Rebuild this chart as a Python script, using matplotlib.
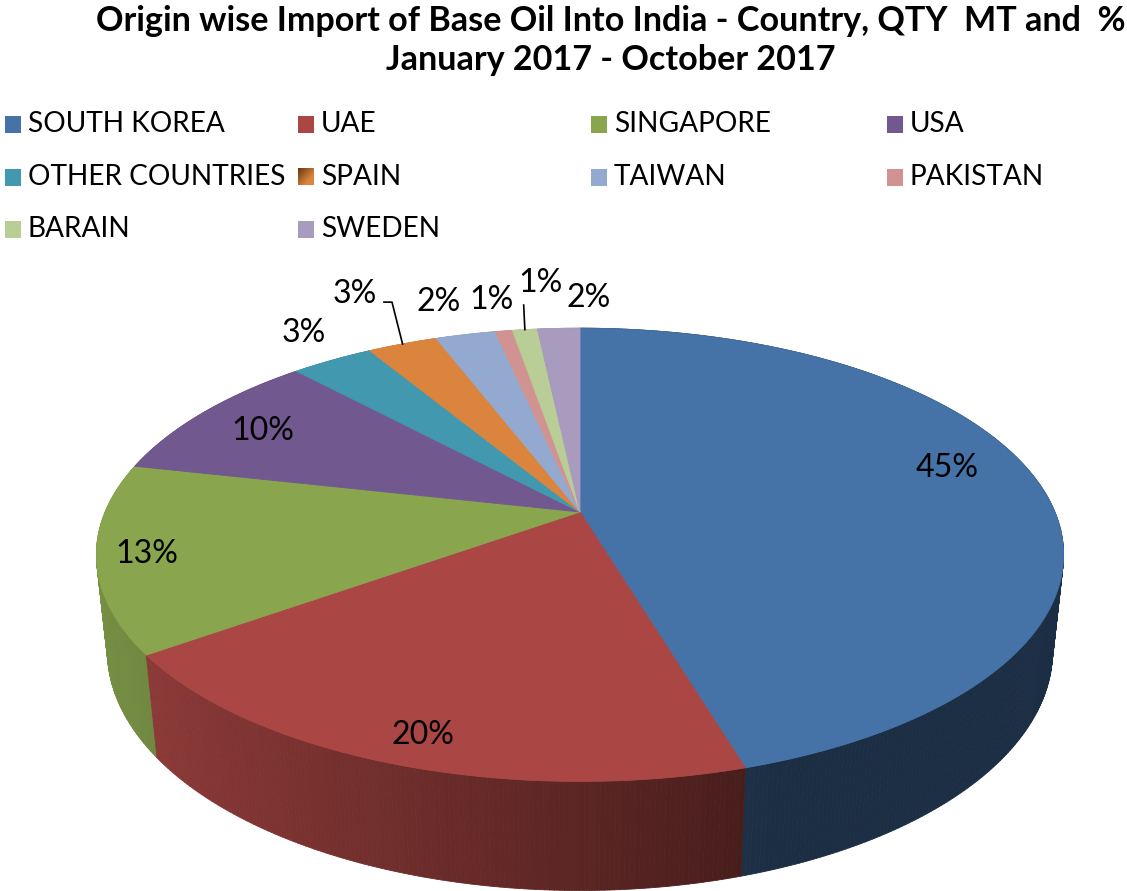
import numpy as np
import matplotlib
matplotlib.use('Agg')
import matplotlib.pyplot as plt
from matplotlib.patches import Polygon, Rectangle
from matplotlib.collections import PolyCollection
from matplotlib import font_manager

# data (share of import quantity, %)
countries = ['SOUTH KOREA', 'UAE', 'SINGAPORE', 'USA', 'OTHER COUNTRIES',
             'SPAIN', 'TAIWAN', 'PAKISTAN', 'BARAIN', 'SWEDEN']
shares = [45.4, 19.7, 13.4, 9.6, 3.3, 2.8, 2.4, 0.7, 1.0, 1.7]
colors = ['#4572A7', '#AA4643', '#89A54E', '#71588F', '#4198AF',
          '#DB843D', '#93A9CF', '#D19392', '#B9CD96', '#A99BBD']
title_lines = ['Origin wise Import of Base Oil Into India - Country, QTY  MT and  %',
               'January 2017 - October 2017']

# label placement in pie units (radius, angle nudge in degrees)
label_r = [0.83, 0.90, 0.90, 0.82, 1.19, 1.36, 1.23, 1.21, 1.31, 1.20]
label_da = [6.4, 1.0, 0.5, 1.0, -1.6, -0.5, 0.6, -0.1, -3.4, -4.1]
# leader lines: pixel offsets from label centre (None = no line)
leader = [None, None, None, None, None, [(37, 8), (29, 8)], None, None, [(-17, 22)], None]

names = {f.name for f in font_manager.fontManager.ttflist}
BODY = 'Lato' if 'Lato' in names else 'DejaVu Sans'
NARROW = 'Liberation Sans Narrow' if 'Liberation Sans Narrow' in names else BODY

# simple perspective camera for the 3d pie
CX, CY = 580, 512
F, DIST = 2232, 4.7
ALPHA = np.radians(27.4)
H = 0.23


def proj(th, r=1.0, z=0.0):
    X = r * np.cos(th)
    Y = r * np.sin(th)
    yv = Y * np.sin(ALPHA) + z * np.cos(ALPHA)
    d = DIST + Y * np.cos(ALPHA) - z * np.sin(ALPHA)
    return CX + F * X / d, CY - F * yv / d


def shade(th_deg):
    a = (th_deg + 180) % 360 - 180
    if a > 90:
        t = 1.0
    elif a >= 0:
        t = 0.0
    else:
        t = np.clip((-a - 70) / 110, 0, 1)
    return 0.40 + 0.48 * np.sin(t * np.pi / 2)


fig = plt.figure(figsize=(11.27, 8.91), dpi=100)
ax = fig.add_axes([0, 0, 1, 1])
ax.set_xlim(0, 1127)
ax.set_ylim(891, 0)
ax.axis('off')
rend = fig.canvas.get_renderer()


def fit_size(text, width, **kw):
    t = ax.text(0, 0, text, fontsize=20, **kw)
    w = t.get_window_extent(renderer=rend).width
    t.remove()
    return 20 * width / w


total = sum(shares)
bounds = 90 - 360 * np.concatenate([[0], np.cumsum(shares)]) / total

# side walls, drawn far to near
walls = []
for i, c in enumerate(colors):
    a0, a1 = bounds[i], bounds[i + 1]
    n = max(2, int(abs(a0 - a1) / 0.5))
    angs = np.linspace(a0, a1, n + 1)
    rgb = np.array(matplotlib.colors.to_rgb(c))
    for j in range(n):
        ta, tb = np.radians(angs[j]), np.radians(angs[j + 1])
        p = [proj(ta), proj(tb), proj(tb, z=-H), proj(ta, z=-H)]
        ym = np.sin((ta + tb) / 2)
        col = np.clip(rgb * shade((angs[j] + angs[j + 1]) / 2), 0, 1)
        walls.append((ym, p, col))
walls.sort(key=lambda w: -w[0])
pc = PolyCollection([w[1] for w in walls], facecolors=[w[2] for w in walls],
                    edgecolors=[w[2] for w in walls], linewidths=0.6, zorder=1)
ax.add_collection(pc)

# top faces
for i, c in enumerate(colors):
    angs = np.radians(np.linspace(bounds[i], bounds[i + 1], 200))
    us, vs = proj(angs)
    pts = [(CX, CY)] + list(zip(us, vs))
    ax.add_patch(Polygon(pts, closed=True, facecolor=c, edgecolor=c, lw=0.6, zorder=2))

# percent labels
fs_lab = fit_size('20%', 63, family=BODY)
for i, s in enumerate(shares):
    mid = (bounds[i] + bounds[i + 1]) / 2
    u, v = proj(np.radians(mid + label_da[i]), label_r[i])
    ax.text(u, v, f'{round(s / total * 100):.0f}%', family=BODY, fontsize=fs_lab,
            ha='center', va='center', color='black', zorder=4)
    if leader[i] is not None:
        ru, rv = proj(np.radians(mid))
        xs = [ru] + [u + dx for dx, dy in leader[i]]
        ys = [rv] + [v + dy for dx, dy in leader[i]]
        ax.plot(xs, ys, color='black', lw=1.2, zorder=4)

# legend
leg_x = [5, 298, 591, 887]
leg_y = [124, 177, 229]
fs_leg = fit_size('OTHER COUNTRIES', 257, family=BODY)
for i, (name, c) in enumerate(zip(countries, colors)):
    row, col = divmod(i, 4)
    x, y = leg_x[col], leg_y[row]
    if name == 'SPAIN':
        g = np.linspace(0, 1, 20)
        gx, gy = np.meshgrid(g, g)
        t = np.clip((gx + gy) / 1.4, 0, 1)[..., None]
        dark = np.array([0.40, 0.22, 0.08])
        lite = np.array(matplotlib.colors.to_rgb(c))
        ax.imshow(dark + (lite - dark) * t, extent=(x, x + 16, y + 8.5, y - 8.5),
                  origin='upper', zorder=3, interpolation='bilinear')
    else:
        ax.add_patch(Rectangle((x, y - 8.5), 16, 17, facecolor=c, edgecolor='none', zorder=3))
    ax.text(x + 23, y, name, family=BODY, fontsize=fs_leg, ha='left', va='center', zorder=3)

# title
fs_t = fit_size(title_lines[0], 1028, family=NARROW, weight='bold')
ax.text(611, 21, title_lines[0], family=NARROW, weight='bold', fontsize=fs_t,
        ha='center', va='center')
ax.text(611, 60, title_lines[1], family=NARROW, weight='bold', fontsize=fs_t,
        ha='center', va='center')

ax.set_xlim(0, 1127)
ax.set_ylim(891, 0)
ax.set_aspect('auto')
fig.savefig('out.png', dpi=100, facecolor='white')
